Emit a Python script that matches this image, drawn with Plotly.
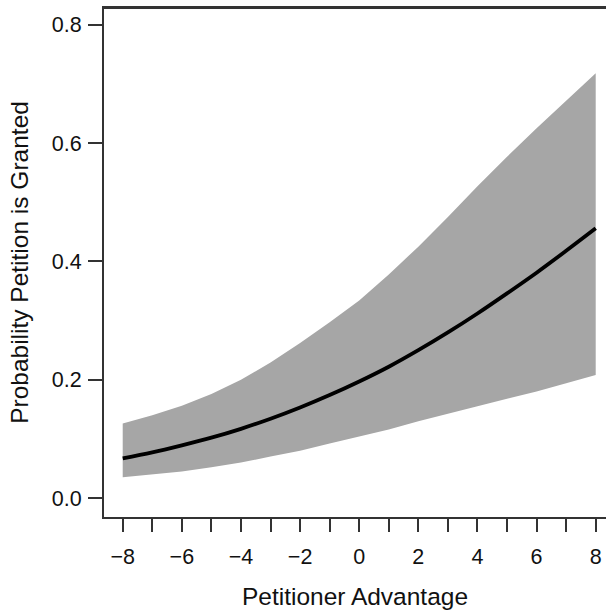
import plotly.graph_objects as go

advantage = [-8, -7, -6, -5, -4, -3, -2, -1, 0, 1, 2, 3, 4, 5, 6, 7, 8]
prob_mean = [0.067, 0.077, 0.089, 0.102, 0.117, 0.134, 0.153, 0.174, 0.197,
             0.222, 0.250, 0.280, 0.312, 0.346, 0.381, 0.418, 0.456]
prob_upper = [0.126, 0.140, 0.156, 0.176, 0.200, 0.229, 0.262, 0.297, 0.334,
              0.378, 0.425, 0.475, 0.527, 0.577, 0.625, 0.672, 0.718]
prob_lower = [0.035, 0.040, 0.045, 0.052, 0.060, 0.070, 0.080, 0.092, 0.104,
              0.116, 0.130, 0.142, 0.155, 0.168, 0.180, 0.194, 0.208]

x_ticks = [-8, -7, -6, -5, -4, -3, -2, -1, 0, 1, 2, 3, 4, 5, 6, 7, 8]
x_ticktext = ["\u22128", "", "\u22126", "", "\u22124", "", "\u22122", "", "0",
              "", "2", "", "4", "", "6", "", "8"]
y_ticks = [0.0, 0.2, 0.4, 0.6, 0.8]
y_ticktext = ["0.0", "0.2", "0.4", "0.6", "0.8"]

FONT = "Liberation Sans, Arial, sans-serif"
AXIS = "#333333"
TEXT = "#111111"

fig = go.Figure()
fig.add_trace(go.Scatter(x=advantage, y=prob_lower, mode="lines",
                         line=dict(width=0, color="#A6A6A6"),
                         showlegend=False, hoverinfo="skip"))
fig.add_trace(go.Scatter(x=advantage, y=prob_upper, mode="lines",
                         line=dict(width=0, color="#A6A6A6"),
                         fill="tonexty", fillcolor="#A6A6A6",
                         showlegend=False, hoverinfo="skip"))
fig.add_trace(go.Scatter(x=advantage, y=prob_mean, mode="lines",
                         line=dict(width=3.8, color="black", shape="spline"),
                         showlegend=False))

fig.update_layout(
    width=606, height=610,
    margin=dict(l=104, r=0, t=8, b=93),
    paper_bgcolor="white", plot_bgcolor="white",
    font=dict(family=FONT, color=TEXT),
    xaxis=dict(
        range=[-8.633, 8.348], showgrid=False, zeroline=False,
        showline=True, linecolor=AXIS, linewidth=2, mirror=True,
        ticks="outside", ticklen=13, tickwidth=1.5, tickcolor=AXIS,
        tickvals=x_ticks, ticktext=x_ticktext,
        tickfont=dict(size=21.5, family=FONT, color=TEXT),
        ticklabelstandoff=6,
        title=dict(text="Petitioner Advantage",
                   font=dict(size=24.5, family=FONT, color=TEXT),
                   standoff=20),
    ),
    yaxis=dict(
        range=[-0.0321, 0.8285], showgrid=False, zeroline=False,
        showline=True, linecolor=AXIS, linewidth=2,
        ticks="outside", ticklen=14, tickwidth=1.5, tickcolor=AXIS,
        tickvals=y_ticks, ticktext=y_ticktext,
        tickfont=dict(size=21.5, family=FONT, color=TEXT),
        ticklabelstandoff=2,
        title=dict(text="Probability Petition is Granted",
                   font=dict(size=24.5, family=FONT, color=TEXT),
                   standoff=16),
    ),
    shapes=[dict(type="line", xref="paper", yref="paper",
                 x0=0, x1=1, y0=1, y1=1,
                 line=dict(color=AXIS, width=2), layer="above")],
)

fig.write_html(
    "out.html",
    config={"displayModeBar": False},
    post_script="document.body.style.margin='0';document.body.style.overflow='hidden';",
)
